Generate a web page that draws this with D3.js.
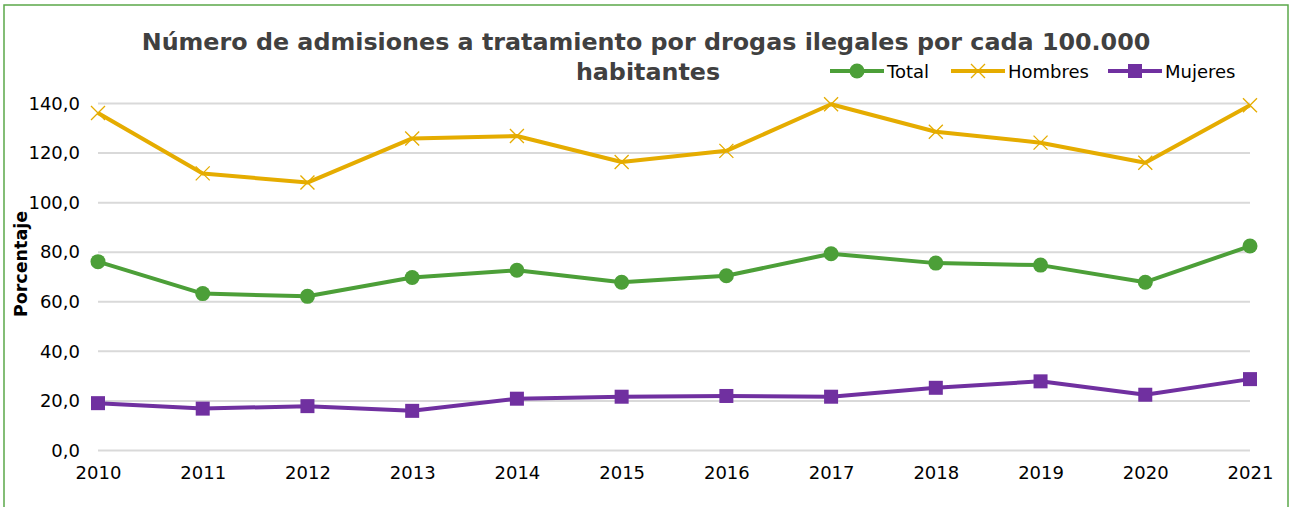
<!DOCTYPE html>
<html>
<head>
<meta charset="utf-8">
<script src="https://cdn.jsdelivr.net/npm/d3@7"></script>
<style>
  body { margin: 0; background: #fff; }
  svg { display: block; font-family: "DejaVu Sans", Verdana, sans-serif; }
</style>
</head>
<body>
<script>
var width = 1290;
var height = 507;

// datos
var years = ["2010","2011","2012","2013","2014","2015","2016","2017","2018","2019","2020","2021"];
var total   = [76.2, 63.3, 62.2, 69.8, 72.7, 67.9, 70.5, 79.4, 75.6, 74.8, 67.9, 82.5];
var hombres = [136.2, 111.8, 108.1, 125.9, 126.9, 116.4, 120.9, 139.7, 128.6, 124.2, 116.1, 139.3];
var mujeres = [19.1, 16.9, 17.9, 16.0, 20.9, 21.7, 22.0, 21.7, 25.3, 27.9, 22.5, 28.8];
var yTicks  = [0, 20, 40, 60, 80, 100, 120, 140];

var series = [
  { name: "Total",   values: total,   color: "#4C9F38", marker: "circle" },
  { name: "Hombres", values: hombres, color: "#E5AC00", marker: "cross" },
  { name: "Mujeres", values: mujeres, color: "#7030A0", marker: "square" }
];

var margin = { top: 103.5, right: 40, bottom: 57, left: 98 };

var svg = d3.select("body").append("svg")
  .attr("width", width)
  .attr("height", height);

// marco
svg.append("rect")
  .attr("x", 4).attr("y", 5)
  .attr("width", 1284).attr("height", 510)
  .attr("fill", "#fff")
  .attr("stroke", "#5BA84A")
  .attr("stroke-width", 1.5);

var x = d3.scalePoint()
  .domain(years)
  .range([margin.left, 1250]);

var y = d3.scaleLinear()
  .domain([0, 140])
  .range([450.5, margin.top]);

// rejilla
svg.append("g")
  .selectAll("line")
  .data(yTicks)
  .join("line")
  .attr("x1", margin.left)
  .attr("x2", 1250)
  .attr("y1", d => y(d))
  .attr("y2", d => y(d))
  .attr("stroke", "#D9D9D9")
  .attr("stroke-width", 2);

// eje y
var yAxis = svg.append("g")
  .attr("transform", "translate(" + margin.left + ",0)")
  .call(d3.axisLeft(y).tickValues(yTicks).tickSize(0).tickPadding(18)
    .tickFormat(d => d3.format(".1f")(d).replace(".", ",")));
yAxis.select(".domain").remove();
yAxis.selectAll("text")
  .attr("font-size", 18)
  .attr("fill", "#000")
  .attr("font-family", "DejaVu Sans, Verdana, sans-serif");

// eje x
var xAxis = svg.append("g")
  .attr("transform", "translate(0," + y(0) + ")")
  .call(d3.axisBottom(x).tickSize(0).tickPadding(16));
xAxis.select(".domain").remove();
xAxis.selectAll("text")
  .attr("font-size", 18)
  .attr("fill", "#000")
  .attr("font-family", "DejaVu Sans, Verdana, sans-serif");

// título del eje
svg.append("text")
  .attr("transform", "translate(27,264) rotate(-90)")
  .attr("text-anchor", "middle")
  .attr("font-size", 17.5)
  .attr("font-weight", "bold")
  .attr("fill", "#000")
  .text("Porcentaje");

// título
var title = svg.append("text")
  .attr("text-anchor", "middle")
  .attr("font-size", 23.8)
  .attr("font-weight", "bold")
  .attr("fill", "#404040");
title.append("tspan").attr("x", 646).attr("y", 50)
  .text("Número de admisiones a tratamiento por drogas ilegales por cada 100.000");
title.append("tspan").attr("x", 648).attr("y", 80)
  .text("habitantes");

var line = d3.line()
  .x((d, i) => x(years[i]))
  .y(d => y(d));

function drawMarker(g, type, color, cx, cy) {
  if (type === "circle") {
    g.append("circle").attr("cx", cx).attr("cy", cy).attr("r", 7.5).attr("fill", color);
  } else if (type === "square") {
    g.append("rect").attr("x", cx - 7).attr("y", cy - 7)
      .attr("width", 14).attr("height", 14).attr("fill", color);
  } else {
    g.append("path")
      .attr("d", "M" + (cx - 7) + "," + (cy - 7) + "L" + (cx + 7) + "," + (cy + 7) +
                 "M" + (cx - 7) + "," + (cy + 7) + "L" + (cx + 7) + "," + (cy - 7))
      .attr("stroke", color).attr("stroke-width", 1.3).attr("fill", "none");
  }
}

series.forEach(function(s) {
  var g = svg.append("g");
  g.append("path")
    .datum(s.values)
    .attr("d", line)
    .attr("fill", "none")
    .attr("stroke", s.color)
    .attr("stroke-width", 4)
    .attr("stroke-linejoin", "round");
  s.values.forEach(function(v, i) {
    drawMarker(g, s.marker, s.color, x(years[i]), y(v));
  });
});

// leyenda
var legendX = [830, 951, 1108];
series.forEach(function(s, i) {
  var g = svg.append("g");
  var lx = legendX[i];
  g.append("line")
    .attr("x1", lx).attr("x2", lx + 54)
    .attr("y1", 71).attr("y2", 71)
    .attr("stroke", s.color).attr("stroke-width", 4);
  drawMarker(g, s.marker, s.color, lx + 27, 71);
  g.append("text")
    .attr("x", lx + 57).attr("y", 77.5)
    .attr("font-size", 18)
    .attr("fill", "#000")
    .text(s.name);
});
</script>
</body>
</html>
